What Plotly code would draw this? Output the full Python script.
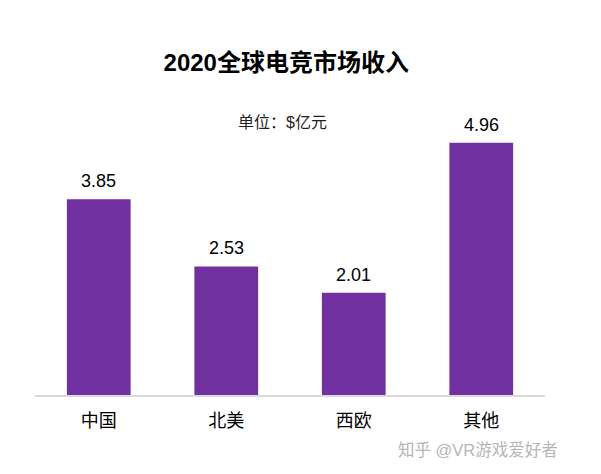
import plotly.graph_objects as go

regions = ['中国', '北美', '西欧', '其他']
revenue = [3.85, 2.53, 2.01, 4.96]
value_labels = ['3.85', '2.53', '2.01', '4.96']

FONT = 'Liberation Sans, Arial, Noto Sans CJK SC, sans-serif'
PURPLE = '#7030A0'

fig = go.Figure(
    data=[go.Bar(x=regions,
                 y=revenue,
                 marker=dict(color=PURPLE, line=dict(width=0)),
                 hoverinfo='skip')])

# value labels above the bars
for r, v, t in zip(regions, revenue, value_labels):
    fig.add_annotation(x=r, y=v, text=t, showarrow=False,
                       yanchor='bottom', yshift=6,
                       font=dict(family=FONT, size=18, color='#000000'))

fig.add_annotation(text='单位：$亿元', xref='paper', yref='paper',
                   x=0.486, y=0.895, xanchor='center', yanchor='middle',
                   showarrow=False,
                   font=dict(family=FONT, size=16, color='#222222'))

fig.add_annotation(text='知乎 @VR游戏爱好者', xref='paper', yref='paper',
                   x=1.029, y=-0.18, xanchor='right', yanchor='middle',
                   showarrow=False,
                   font=dict(family=FONT, size=16.5, color='#b5b5b5'))

fig.update_layout(
    width=601, height=474,
    margin=dict(l=27, r=64, t=82, b=87),
    paper_bgcolor='white', plot_bgcolor='white',
    bargap=0.5,
    showlegend=False,
    title=dict(text='<b>2020全球电竞市场收入</b>', x=0.463, xanchor='center',
               y=0.884, yanchor='middle',
               font=dict(family=FONT, size=24, color='#000000')),
    xaxis=dict(showline=True, linecolor='#d9d9d9', linewidth=2,
               showgrid=False, ticks='outside', ticklen=8, tickcolor='white',
               tickfont=dict(family=FONT, size=18, color='#000000')),
    yaxis=dict(range=[0, 6], visible=False, showgrid=False, zeroline=False),
)

fig.write_html("out.html")
